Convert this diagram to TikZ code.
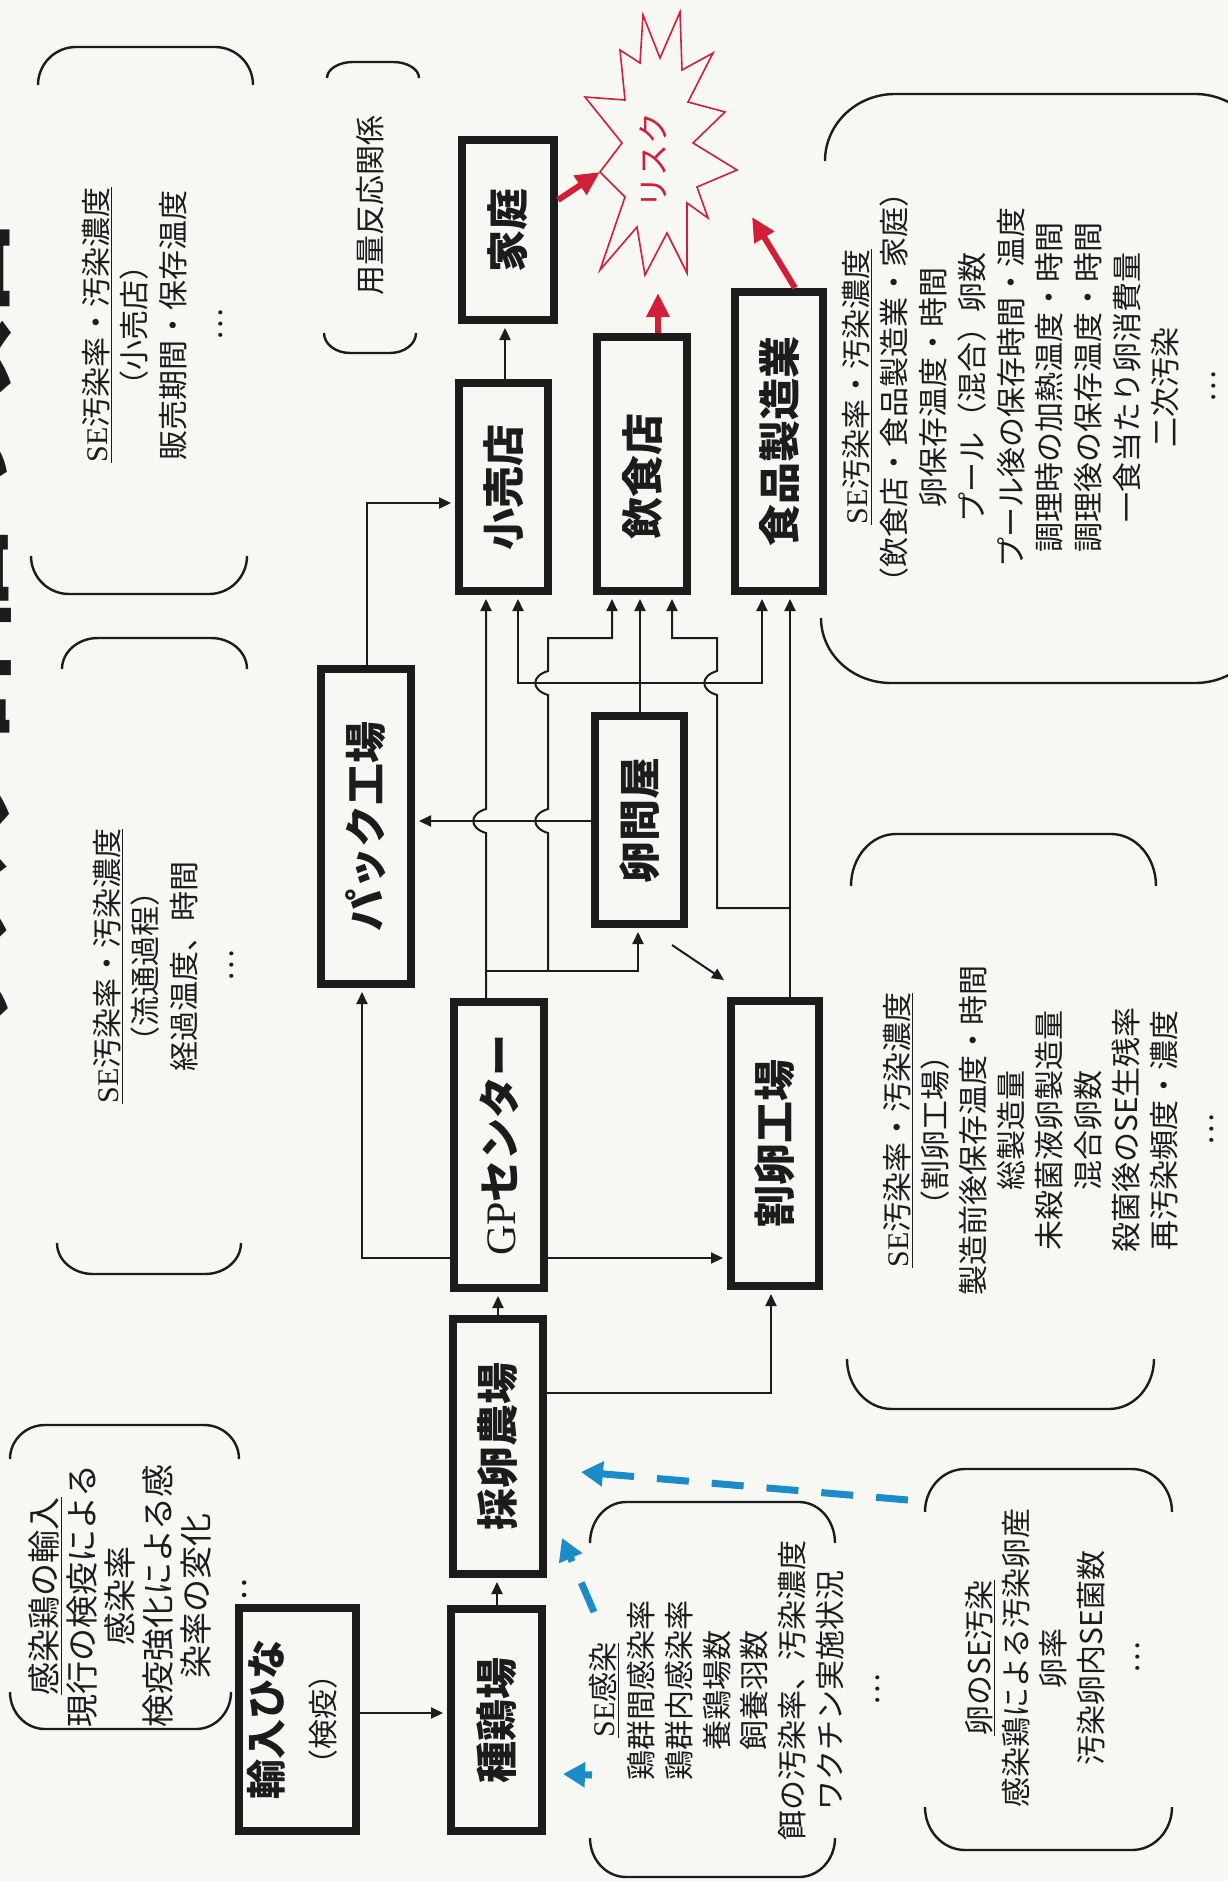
\documentclass[tikz,border=0pt]{standalone}
\usepackage{fontspec}
\setmainfont{Noto Sans CJK JP}
\newfontfamily\seriffont{Liberation Serif}
\usepackage{graphicx}
\usetikzlibrary{arrows.meta,calc}
\definecolor{bgc}{RGB}{247,247,243}
\definecolor{ink}{RGB}{28,28,28}
\definecolor{riskred}{RGB}{210,30,55}
\definecolor{seblue}{RGB}{28,140,200}
\newcommand\hop[2]{-- (#1,#2+12) .. controls (#1-17,#2+7) and (#1-17,#2-7) .. (#1,#2-12)}
\newcommand\topbrk[5]{\draw[brk] (#1,#4) arc[start angle=180,end angle=270,x radius=#5,y radius=#4-#3] -- (#2-#5,#3) arc[start angle=270,end angle=360,x radius=#5,y radius=#4-#3];}
\newcommand\botbrk[5]{\draw[brk] (#1,#4) arc[start angle=180,end angle=90,x radius=#5,y radius=#3-#4] -- (#2-#5,#3) arc[start angle=90,end angle=0,x radius=#5,y radius=#3-#4];}
\newcommand\bxf{\fontsize{42}{42}\selectfont\bfseries}
\begin{document}
\begin{tikzpicture}[x=1pt,y=-1pt,
  box/.style={draw=ink,line width=8pt,rectangle,inner sep=0pt,text=ink},
  conn/.style={draw=ink,line width=2pt,shorten >=4pt,-{Triangle[length=12pt,width=11pt]}},
  brk/.style={draw=ink,line width=2.4pt},
  ann/.style={rotate=90,align=center,inner sep=0pt,text=ink,font=\fontsize{30}{38.5}\selectfont},
  riskarrow/.style={draw=riskred,line width=6pt,-{Triangle[length=24pt,width=22pt]}},
  sedash/.style={draw=seblue,line width=7pt,dash pattern=on 32pt off 23pt,-{Triangle[length=22pt,width=24pt]}}
]
\useasboundingbox (0,0) rectangle (1228,1881);
\fill[bgc] (0,0) rectangle (1228,1881);
\clip (0,0) rectangle (1228,1881);

% title (clipped at the left edge, as in the reference)
\node[rotate=90,anchor=south east,inner sep=0pt,text=ink,font=\fontsize{105}{105}\selectfont\bfseries] (title) at (12,215) {リスク評価の項目};

% boxes
\node[box,minimum width=92pt,minimum height=180pt] (kate) at (508,230) {\rotatebox{90}{\bxf 家庭}};
\node[box,minimum width=89pt,minimum height=208pt] (kouri) at (503.5,487) {\rotatebox{90}{\bxf 小売店}};
\node[box,minimum width=90pt,minimum height=254pt] (inshoku) at (642,464) {\rotatebox{90}{\bxf 飲食店\hspace{24pt}}};
\node[box,minimum width=88pt,minimum height=299pt] (shokuhin) at (779,441.5) {\rotatebox{90}{\bxf 食品製造業}};
\node[box,minimum width=90pt,minimum height=315pt] (pack) at (366,826.5) {\rotatebox{90}{\bxf パック工場}};
\node[box,minimum width=89pt,minimum height=208pt] (tonya) at (639.5,820) {\rotatebox{90}{\bxf 卵問屋}};
\node[box,minimum width=90pt,minimum height=286pt] (gp) at (499,1145) {\rotatebox{90}{\bxf {\seriffont\mdseries GP}センター}};
\node[box,minimum width=88pt,minimum height=285pt] (wari) at (775,1143.5) {\rotatebox{90}{\bxf 割卵工場}};
\node[box,minimum width=90pt,minimum height=255pt] (sairan) at (498,1446.5) {\rotatebox{90}{\bxf 採卵農場}};
\node[box,minimum width=91pt,minimum height=222pt] (shukei) at (496.5,1720) {\rotatebox{90}{\bxf 種鶏場}};
\node[box,minimum width=117pt,minimum height=223pt] (yunyu) at (297.5,1719.5) {\rotatebox{90}{\fontsize{40}{53}\selectfont\begin{tabular}{@{}c@{}}{\bfseries 輸入ひな}\\{\fontsize{30}{30}\selectfont （検疫）}\end{tabular}}};

% connectors
\draw[conn] (yunyu.east |- 0,1713) -- (shukei.west |- 0,1713);
\draw[conn] (shukei.north -| 497,0) -- (sairan.south -| 497,0);
\draw[conn] (sairan.north -| 498,0) -- (gp.south -| 498,0);
\draw[conn] (sairan.east |- 0,1393) -| (wari.south -| 771,0);
\draw[conn] (gp.west |- 0,1258) -| (pack.south -| 362,0);
\draw[conn] (gp.east |- 0,1258) -- (wari.west |- 0,1258);
\draw[conn] (gp.north -| 486,0) \hop{486}{821} -- (kouri.south -| 486,0);
\coordinate (j1) at (486,971);
\coordinate (j2) at (548,971);
\draw[conn] (j1) -| (tonya.south -| 638,0);
\draw[conn] (j2) \hop{548}{821} \hop{548}{683} -- (548,638) -| (inshoku.south -| 612,0);
\draw[conn] (tonya.west |- 0,821) -- (pack.east |- 0,821);
\draw[conn] (tonya.north -| 640,0) -- (inshoku.south -| 640,0);
\coordinate (j3) at (640,683);
\draw[conn] (j3) -| (kouri.south -| 518,0);
\draw[conn] (j3) -| (shokuhin.south -| 762,0);
\draw[conn] (wari.north -| 790,0) -- (shokuhin.south -| 790,0);
\coordinate (j4) at (790,908);
\draw[conn] (j4) -- (717,908) \hop{717}{683} -- (717,638) -| (inshoku.south -| 672,0);
\draw[conn,shorten >=0pt] ($(tonya.south east)+(-16,17)$) -- ($(wari.north west)+(-3,-17)$);
\draw[conn] (kouri.north -| 505,0) -- (kate.south -| 505,0);
\draw[conn] (pack.north -| 367,0) |- (kouri.west |- 0,503);

% risk star
\draw[riskred,line width=1.6pt,line join=miter] (643,15) -- (660,58) -- (680,12) -- (682,70) -- (713,53) -- (688,102) -- (725,112) -- (693,143) -- (737,170) -- (697,187) -- (708,218) -- (687,203) -- (687,273) -- (667,233) -- (645,275) -- (637,227) -- (600,270) -- (625,197) -- (600,172) -- (622,143) -- (585,97) -- (625,100) -- (620,50) -- (640,63) -- cycle;
\coordinate (r9) at (600,172);
\coordinate (rb) at (658,293);
\coordinate (rc) at (752,217);
\node[rotate=90,inner sep=0pt,text=riskred,font=\fontsize{32}{32}\selectfont] (risk) at (653,160) {リスク};
\draw[riskarrow] (kate.east |- 0,200) -- (r9);
\draw[riskarrow] (inshoku.north -| 658,0) -- (rb);
\draw[riskarrow] (shokuhin.north -| 795,0) -- (rc);

% brackets
\topbrk{38}{253}{47}{85}{38}
\botbrk{31}{247}{594}{556}{38}
\topbrk{327}{419}{62}{78}{26}
\botbrk{324}{416}{353}{333}{26}
\topbrk{62}{247}{638}{669}{36}
\botbrk{57}{241}{1274}{1243}{36}
\topbrk{851}{1156}{834}{886}{45}
\botbrk{847}{1154}{1409}{1359}{45}
\topbrk{825}{1265}{94}{161}{70}
\botbrk{821}{1265}{683}{618}{70}
\topbrk{590}{835}{1502}{1543}{36}
\botbrk{590}{835}{1877}{1838}{36}
\topbrk{925}{1172}{1469}{1512}{40}
\botbrk{925}{1172}{1850}{1807}{40}
\topbrk{10}{239}{1425}{1459}{35}
\botbrk{10}{231}{1729}{1692}{35}

% annotations
\node[ann] (a1) at (152.5,325) {\underline{{\seriffont SE}汚染率・汚染濃度}\\（小売店）\\販売期間・保存温度\\…};
\node[ann] (a2) at (370,205) {用量反応関係};
\node[ann] (a3) at (163.5,966) {\underline{{\seriffont SE}汚染率・汚染濃度}\\（流通過程）\\経過温度、時間\\…};
\node[ann,font=\fontsize{30}{38.1}\selectfont] (a4) at (1048.5,1130) {\underline{{\seriffont SE}汚染率・汚染濃度}\\（割卵工場）\\製造前後保存温度・時間\\総製造量\\未殺菌液卵製造量\\混合卵数\\殺菌後のSE生残率\\再汚染頻度・濃度\\…};
\node[ann,font=\fontsize{30}{38.7}\selectfont] (a5) at (1029,387) {\underline{{\seriffont SE}汚染率・汚染濃度}\\（飲食店・食品製造業・家庭）\\卵保存温度・時間\\プール（混合）卵数\\プール後の保存時間・温度\\調理時の加熱温度・時間\\調理後の保存温度・時間\\一食当たり卵消費量\\二次汚染\\…};
\node[ann,font=\fontsize{30}{37.9}\selectfont] (a6) at (734.5,1690) {\underline{{\seriffont SE}感染}\\鶏群間感染率\\鶏群内感染率\\養鶏場数\\飼養羽数\\餌の汚染率、汚染濃度\\ワクチン実施状況\\…};
\node[ann,font=\fontsize{30}{37.3}\selectfont] (a7) at (1052.5,1658) {\underline{卵のSE汚染}\\感染鶏による汚染卵産\\卵率\\汚染卵内SE菌数\\…};
\node[ann,font=\fontsize{33}{38}\selectfont] (a8) at (138,1596) {\underline{感染鶏の輸入}\\現行の検疫による\\感染率\\検疫強化による感\\染率の変化\\…};

% blue dashed arrows
\coordinate (b7) at (908,1500);
\coordinate (b6) at (594,1612);
\coordinate (b6b) at (592,1775);
\draw[sedash] (b7) -- ($(sairan.east |- 0,1472)+(34,0)$);
\draw[sedash] (b6) -- ($(sairan.east |- 0,1538)+(15,0)$);
\draw[sedash] (b6b) -- ($(shukei.east |- 0,1774)+(17,0)$);
\end{tikzpicture}
\end{document}
